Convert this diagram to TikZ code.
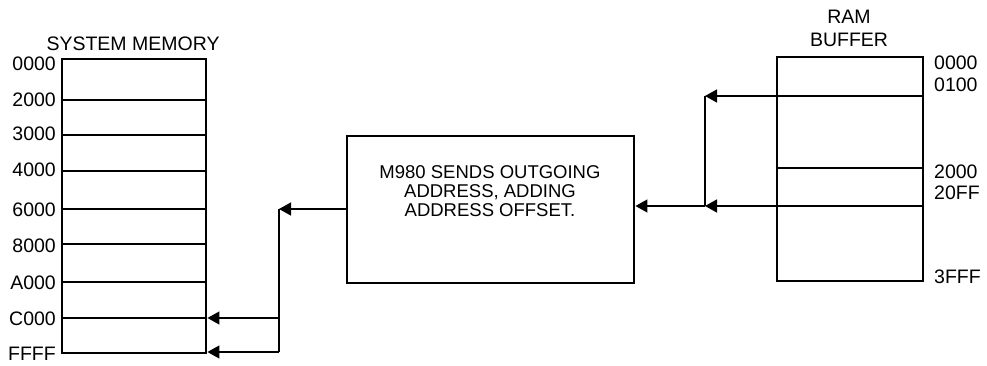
\documentclass[tikz,border=0pt]{standalone}
\usepackage{fontspec}
\setmainfont{Liberation Sans}
\usetikzlibrary{arrows.meta}
\begin{document}
\begin{tikzpicture}[x=1pt,y=-1pt,
  membox/.style={draw, line width=2.9pt, inner sep=0pt},
  divider/.style={line width=1.7pt},
  conn/.style={line width=1.5pt},
  arr/.style={conn, -{Triangle[length=12pt,width=13pt]}},
  lab/.style={inner sep=0pt, font=\fontsize{19.5}{21}\selectfont},
  ttl/.style={inner sep=0pt, align=center, font=\fontsize{19.5}{23}\selectfont},
  body/.style={inner sep=0pt, align=center, font=\fontsize{18.5}{19}\selectfont}]
\useasboundingbox (0,0) rectangle (987,366);
% system memory
\node[membox, minimum width=144pt, minimum height=294pt] (mem) at (134,206) {};
\node[ttl] (memt) at (133,44) {SYSTEM MEMORY};
\foreach \y in {100,135,171,209,244,282,318} {
  \draw[divider] (mem.west |- 0,\y) -- (mem.east |- 0,\y);
}
\foreach \t/\y [count=\i] in {0000/64,2000/100,3000/134,4000/170,6000/210,8000/246,A000/283,C000/319,FFFF/354} {
  \node[lab, anchor=east] (ml\i) at (56,\y) {\t};
}
% RAM buffer
\node[membox, minimum width=146pt, minimum height=224pt] (buf) at (850,169) {};
\node[ttl] (buft) at (849,28) {RAM\\BUFFER};
\draw[divider] (buf.west |- 0,168) -- (buf.east |- 0,168);
\foreach \t/\y [count=\i] in {0000/63,0100/85,2000/172,20FF/193,3FFF/277} {
  \node[lab, anchor=west] (rl\i) at (934,\y) {\t};
}
% process box
\node[membox, minimum width=287pt, minimum height=147pt] (proc) at (490.5,209.5) {};
\node[body] (proct) at (490,191) {M980 SENDS OUTGOING\\ADDRESS, ADDING\\ADDRESS OFFSET.};
% right connectors
\coordinate (j1) at (705,96);
\coordinate (j2) at (705,206);
\draw[arr] (buf.east |- j1) -- (j1);
\draw[conn] (j1) -- (j2);
\draw[arr] (buf.east |- j2) -- (j2);
\draw[arr] (j2) -- (proc.east |- j2);
% left connectors
\coordinate (k1) at (279,209);
\coordinate (k2) at (279,318);
\coordinate (k3) at (279,352);
\draw[arr] (proc.west |- k1) -- (k1);
\draw[conn] (k1) -- (k3);
\draw[arr] (k2) -- (mem.east |- k2);
\draw[arr] (k3) -- (mem.east |- k3);
\end{tikzpicture}
\end{document}
